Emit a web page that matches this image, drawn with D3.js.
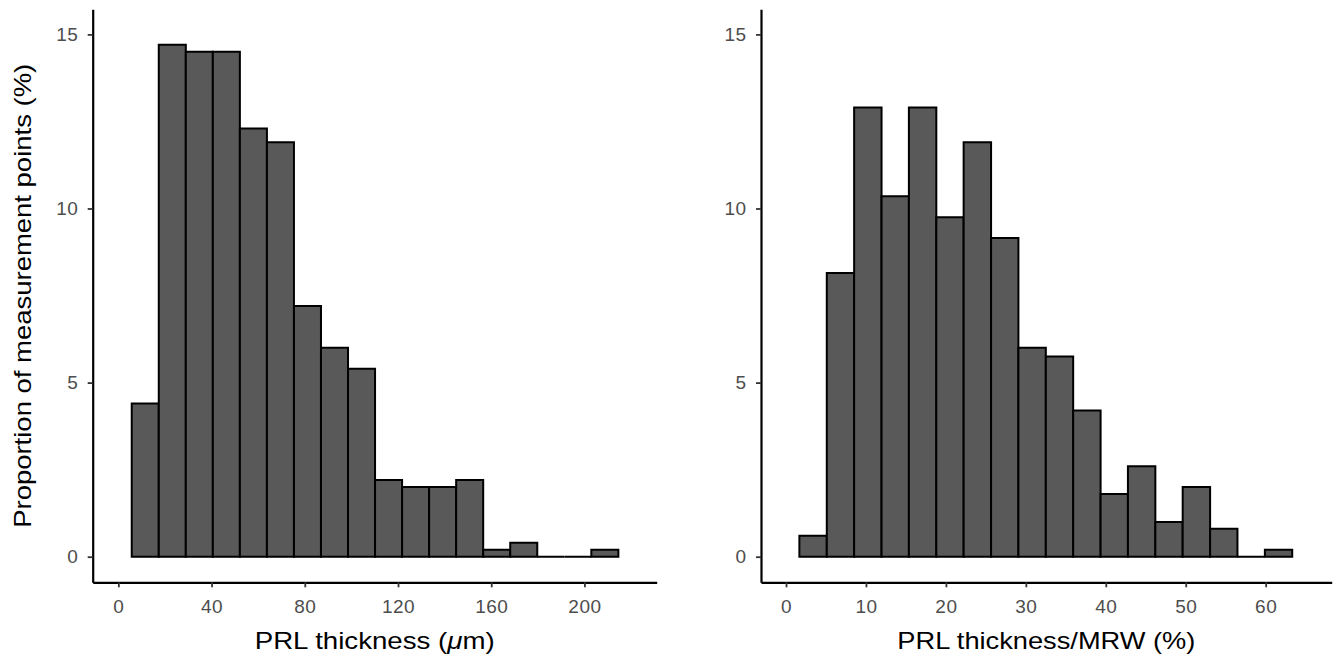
<!DOCTYPE html>
<html>
<head>
<meta charset="utf-8">
<script src="https://cdn.jsdelivr.net/npm/d3@7"></script>
<style>
  body { margin: 0; background: #fff; }
  svg { display: block; font-family: "Liberation Sans", Arial, Helvetica, sans-serif; }
</style>
</head>
<body>
<svg id="chart" width="1339" height="658"></svg>
<script>
// ---- data ----
// Left panel: PRL thickness (µm); bin edges and percentages
const leftEdges = [5.75, 17.35, 28.95, 40.55, 52.15, 63.75, 75.35, 86.95, 98.55, 110.15,
                   121.75, 133.35, 144.95, 156.55, 168.15, 179.75, 191.35, 202.95, 214.55];
const leftValues = [4.4, 14.7, 14.5, 14.5, 12.3, 11.9, 7.2, 6.0, 5.4, 2.2,
                    2.0, 2.0, 2.2, 0.2, 0.4, 0, 0, 0.2];
const leftXTicks = [0, 40, 80, 120, 160, 200];

// Right panel: PRL thickness/MRW (%); bin edges and percentages
const rightEdges = [1.67, 5.10, 8.52, 11.95, 15.37, 18.80, 22.22, 25.65, 29.07, 32.50,
                    35.92, 39.35, 42.77, 46.20, 49.62, 53.05, 56.47, 59.90, 63.32];
const rightValues = [0.6, 8.15, 12.9, 10.35, 12.9, 9.75, 11.9, 9.15, 6.0, 5.75,
                     4.2, 1.8, 2.6, 1.0, 2.0, 0.8, 0, 0.2];
const rightXTicks = [0, 10, 20, 30, 40, 50, 60];

const yTicks = [0, 5, 10, 15];
const yTitle = "Proportion of measurement points (%)";

// ---- layout ----
const svg = d3.select("#chart");
const yTop = 9.3, yBottom = 582.3;
const y = d3.scaleLinear().domain([-0.735, 15.72]).range([yBottom, yTop]);

const panels = [
  { edges: leftEdges, values: leftValues, ticks: leftXTicks, domain: [-11, 231],
    range: [92.7, 656.7], title: "left", titleLen: 240 },
  { edges: rightEdges, values: rightValues, ticks: rightXTicks, domain: [-3.13, 68.26],
    range: [761, 1331.7], title: "right", titleLen: 298 }
];

panels.forEach(p => {
  const x = d3.scaleLinear().domain(p.domain).range(p.range);
  const g = svg.append("g");

  const bins = p.values.map((v, i) => ({ x0: p.edges[i], x1: p.edges[i + 1], v }));
  g.selectAll("path.bar").data(bins).join("path")
    .attr("class", "bar")
    .attr("d", d => {
      const a = x(d.x0), b = x(d.x1), t = y(d.v), z = y(0);
      return `M${a},${z}V${t}H${b}V${z}Z`;
    })
    .attr("fill", "#595959")
    .attr("stroke", "#000")
    .attr("stroke-width", 2)
    .attr("stroke-linejoin", "miter");

  // y axis
  const ya = g.append("g")
    .attr("transform", `translate(${p.range[0]},0)`)
    .call(d3.axisLeft(y).tickValues(yTicks).tickSize(5).tickPadding(9.4).tickSizeOuter(0));
  // x axis
  const xa = g.append("g")
    .attr("transform", `translate(0,${yBottom})`)
    .call(d3.axisBottom(x).tickValues(p.ticks).tickSize(5).tickPadding(12.4).tickSizeOuter(0));

  [ya, xa].forEach(a => {
    a.select(".domain").attr("stroke", "#000").attr("stroke-width", 2.2);
    a.selectAll(".tick line").attr("stroke", "#333").attr("stroke-width", 1.8);
    a.selectAll(".tick text").attr("fill", "#4D4D4D")
      .style("font-size", "19px").style("letter-spacing", "0.5px");
  });

  // x title
  const cx = (p.range[0] + p.range[1]) / 2;
  const t = g.append("text")
    .attr("x", cx).attr("y", 649)
    .attr("text-anchor", "middle")
    .attr("fill", "#000")
    .style("font-size", "24px")
    .attr("textLength", p.titleLen)
    .attr("lengthAdjust", "spacingAndGlyphs");
  if (p.title === "left") {
    t.append("tspan").text("PRL thickness (");
    t.append("tspan").attr("font-style", "italic").text("\u03BC");
    t.append("tspan").text("m)");
  } else {
    t.text("PRL thickness/MRW (%)");
  }
});

// y title (left panel only)
svg.append("text")
  .attr("transform", `translate(31,${(yTop + yBottom) / 2}) rotate(-90)`)
  .attr("text-anchor", "middle")
  .attr("fill", "#000")
  .style("font-size", "24px")
  .attr("textLength", 464)
  .attr("lengthAdjust", "spacingAndGlyphs")
  .text(yTitle);
</script>
</body>
</html>
